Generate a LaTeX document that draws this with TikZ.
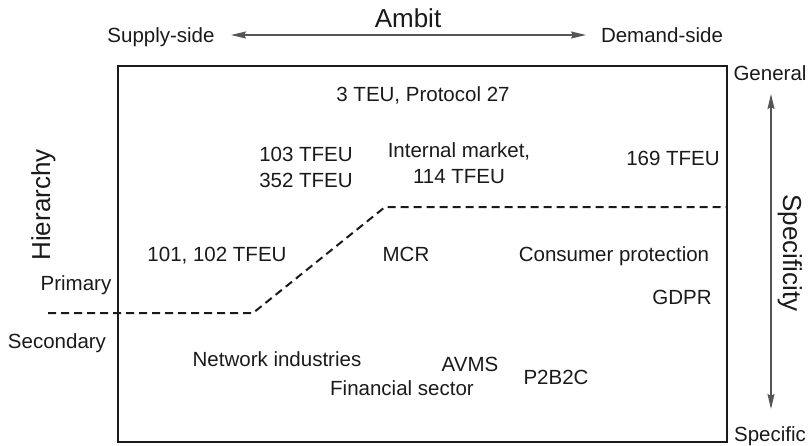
\documentclass[tikz,border=0pt]{standalone}
\usepackage{fontspec}
\setmainfont{Liberation Sans}
\usetikzlibrary{arrows.meta}
\definecolor{ink}{HTML}{1A1A1A}
\definecolor{arrowgray}{HTML}{555555}
\begin{document}
\begin{tikzpicture}[x=1pt,y=-1pt,
  lbl/.style={anchor=base,inner sep=0pt,text=ink,font=\fontsize{20.5}{24}\selectfont},
  biglbl/.style={anchor=base,inner sep=0pt,text=ink,font=\fontsize{26}{30}\selectfont},
  axisarrow/.style={{Stealth[length=15pt,width=7pt,inset=2pt]}-{Stealth[length=15pt,width=7pt,inset=2pt]},draw=arrowgray,fill=arrowgray,line width=1.5pt},
  frame/.style={draw=ink,line width=2pt},
  divider/.style={draw=ink,line width=2pt,dash pattern=on 8pt off 5pt}]
\useasboundingbox (0,0) rectangle (809,445);
% frame
\draw[frame] (118,66) rectangle (727,442);
% top axis
\node[biglbl] (ambit) at (408,27) {Ambit};
\node[lbl] (sup) at (161,42) {Supply-side};
\node[lbl] (dem) at (662,42) {Demand-side};
\coordinate (ha) at (231,35);
\coordinate (hb) at (586,35);
\draw[axisarrow] (ha) -- (hb);
% right axis
\node[lbl] (gen) at (770,80) {General};
\node[lbl] (spec) at (770,441) {Specific};
\coordinate (va) at (771,94);
\coordinate (vb) at (771,409);
\draw[axisarrow] (va) -- (vb);
\node[biglbl,rotate=-90] (specificity) at (783,253) {Specificity};
% left axis
\node[biglbl,rotate=90] (hier) at (50,205) {Hierarchy};
\node[lbl] (prim) at (76,290) {Primary};
\node[lbl] (sec) at (57,348) {Secondary};
% divider
\coordinate (d1) at (48,313);
\coordinate (d2) at (253,313);
\coordinate (d3) at (385,207);
\coordinate (d4) at (727,207);
\draw[divider] (d1) -- (d2) -- (d3) -- (d4);
% contents
\node[lbl] (teu) at (423,101) {3 TEU, Protocol 27};
\node[lbl] (t103) at (306,161) {103 TFEU};
\node[lbl] (t352) at (306,187) {352 TFEU};
\node[lbl] (im) at (459,157) {Internal market,};
\node[lbl] (t114) at (459,183) {114 TFEU};
\node[lbl] (t169) at (673,165) {169 TFEU};
\node[lbl] (t101) at (217,261) {101, 102 TFEU};
\node[lbl] (mcr) at (406,261) {MCR};
\node[lbl] (cons) at (614,261) {Consumer protection};
\node[lbl] (gdpr) at (682,304) {GDPR};
\node[lbl] (net) at (277,366) {Network industries};
\node[lbl] (avms) at (470,371) {AVMS};
\node[lbl] (fin) at (402,395) {Financial sector};
\node[lbl] (p2b) at (556,384) {P2B2C};
\end{tikzpicture}
\end{document}
